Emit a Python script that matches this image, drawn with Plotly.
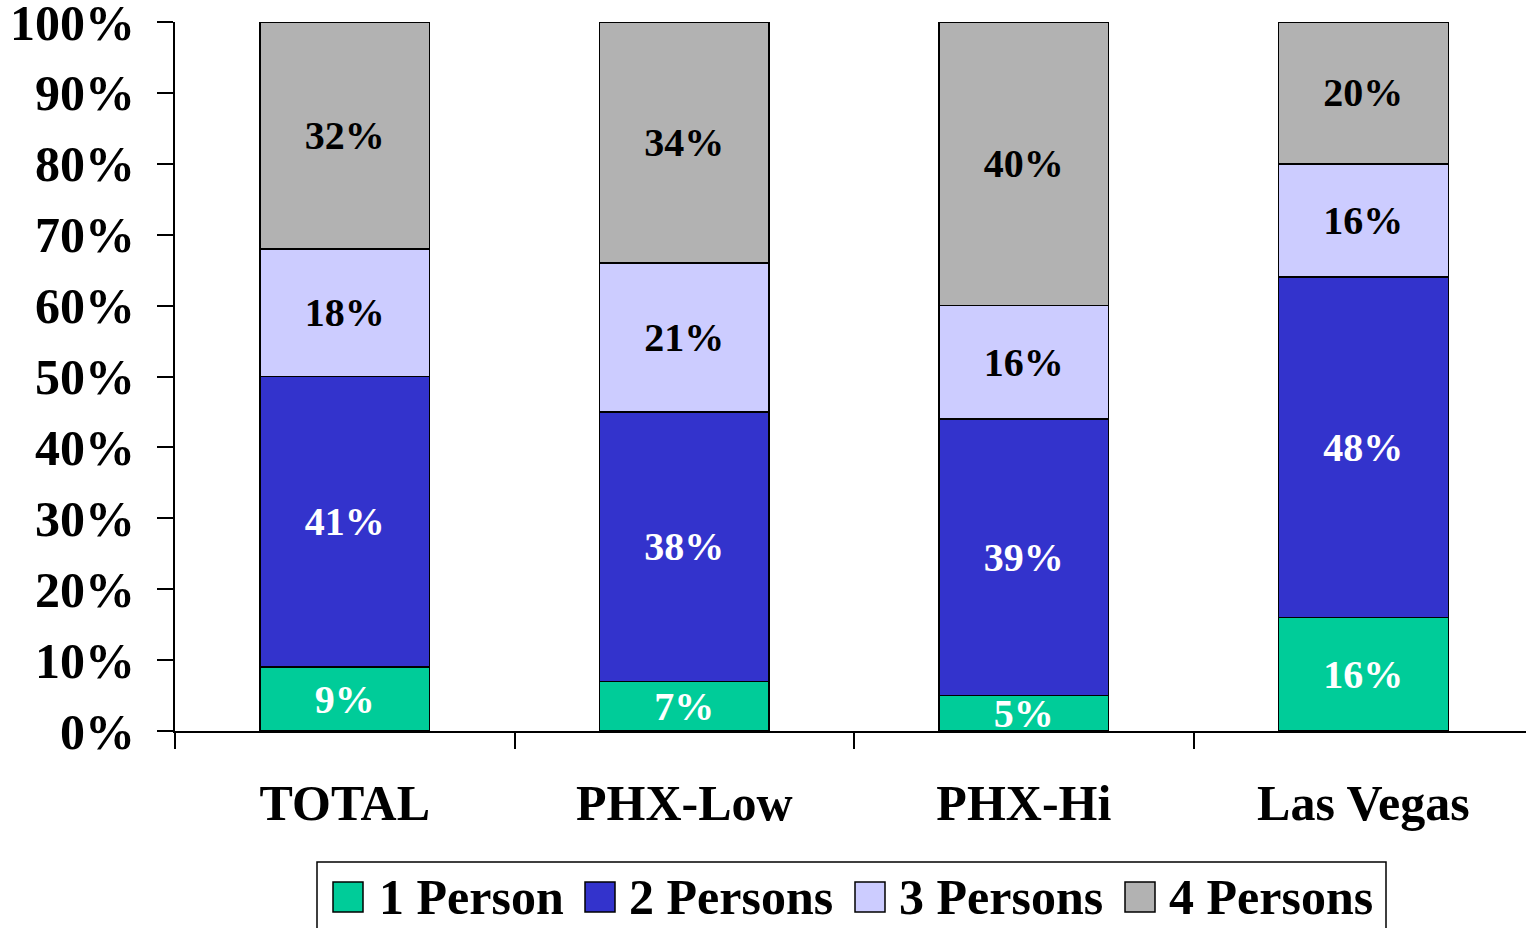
import plotly.graph_objects as go

# household size share by market (%)
regions = ['TOTAL', 'PHX-Low', 'PHX-Hi', 'Las Vegas']
one_person = [9, 7, 5, 16]
two_persons = [41, 38, 39, 48]
three_persons = [18, 21, 16, 16]
four_persons = [32, 34, 40, 20]

series_names = ['1 Person', '2 Persons', '3 Persons', '4 Persons']
series_values = [one_person, two_persons, three_persons, four_persons]
series_colors = ['#00CC99', '#3333CC', '#CCCCFF', '#B2B2B2']
label_colors = ['white', 'white', 'black', 'black']

FONT = 'Liberation Serif, Times New Roman, serif'
W, H = 1526, 928
L, R, T, B = 175, 0, 22, 197
plot_w = W - L - R
plot_h = H - T - B


def px_x(x):
    # pixel -> paper x
    return (x - L) / plot_w


def px_y(y):
    # pixel -> paper y
    return (H - B - y) / plot_h


fig = go.Figure()
for name, vals, col, tcol in zip(series_names, series_values, series_colors, label_colors):
    fig.add_trace(go.Bar(
        x=regions, y=vals, name=name,
        marker=dict(color=col, line=dict(color='black', width=1.5)),
        text=[f'{v}%' for v in vals],
        textposition='inside', insidetextanchor='middle',
        textfont=dict(family=FONT, size=40, color=tcol, weight='bold'),
        showlegend=False,
    ))

# hand-drawn legend so the swatches can be large
shapes = [dict(type='rect', xref='paper', yref='paper',
               x0=px_x(317), x1=px_x(1386), y0=px_y(862), y1=px_y(945),
               line=dict(color='black', width=1.5), fillcolor='white')]
annotations = []
swatch_left = [333, 585, 855, 1125]
text_left = [377, 627, 897, 1167]
for name, col, sx, tx in zip(series_names, series_colors, swatch_left, text_left):
    shapes.append(dict(type='rect', xref='paper', yref='paper',
                       x0=px_x(sx), x1=px_x(sx + 30), y0=px_y(882), y1=px_y(912),
                       line=dict(color='black', width=1.5), fillcolor=col))
    annotations.append(dict(xref='paper', yref='paper', x=px_x(tx), y=px_y(897),
                            xanchor='left', yanchor='middle', showarrow=False,
                            text=name, font=dict(family=FONT, size=50, color='black', weight='bold')))

fig.update_layout(
    barmode='stack', bargap=0.5,
    width=W, height=H,
    margin=dict(l=L, r=R, t=T, b=B),
    plot_bgcolor='white', paper_bgcolor='white',
    font=dict(family=FONT, size=50, color='black', weight='bold'),
    uniformtext=dict(minsize=40, mode='show'),
    shapes=shapes, annotations=annotations,
    xaxis=dict(range=[-0.5, 3.479], showline=True, linecolor='black', linewidth=2,
               ticks='outside', tickson='boundaries', ticklen=16, tickwidth=2, tickcolor='black',
               ticklabelstandoff=27, showgrid=False, automargin=False,
               tickfont=dict(family=FONT, size=50, color='black', weight='bold')),
    yaxis=dict(range=[0, 100], dtick=10, ticksuffix='%', showline=True, linecolor='black', linewidth=2,
               ticks='outside', ticklen=16, tickwidth=2, tickcolor='black',
               ticklabelstandoff=12, ticklabeloverflow='allow', showgrid=False, zeroline=False,
               automargin=False,
               tickfont=dict(family=FONT, size=50, color='black', weight='bold')),
)

# drop the default page margin so the figure fills the window
fig.write_html('out.html', config={'displayModeBar': False},
               post_script="document.body.style.margin='0';")
